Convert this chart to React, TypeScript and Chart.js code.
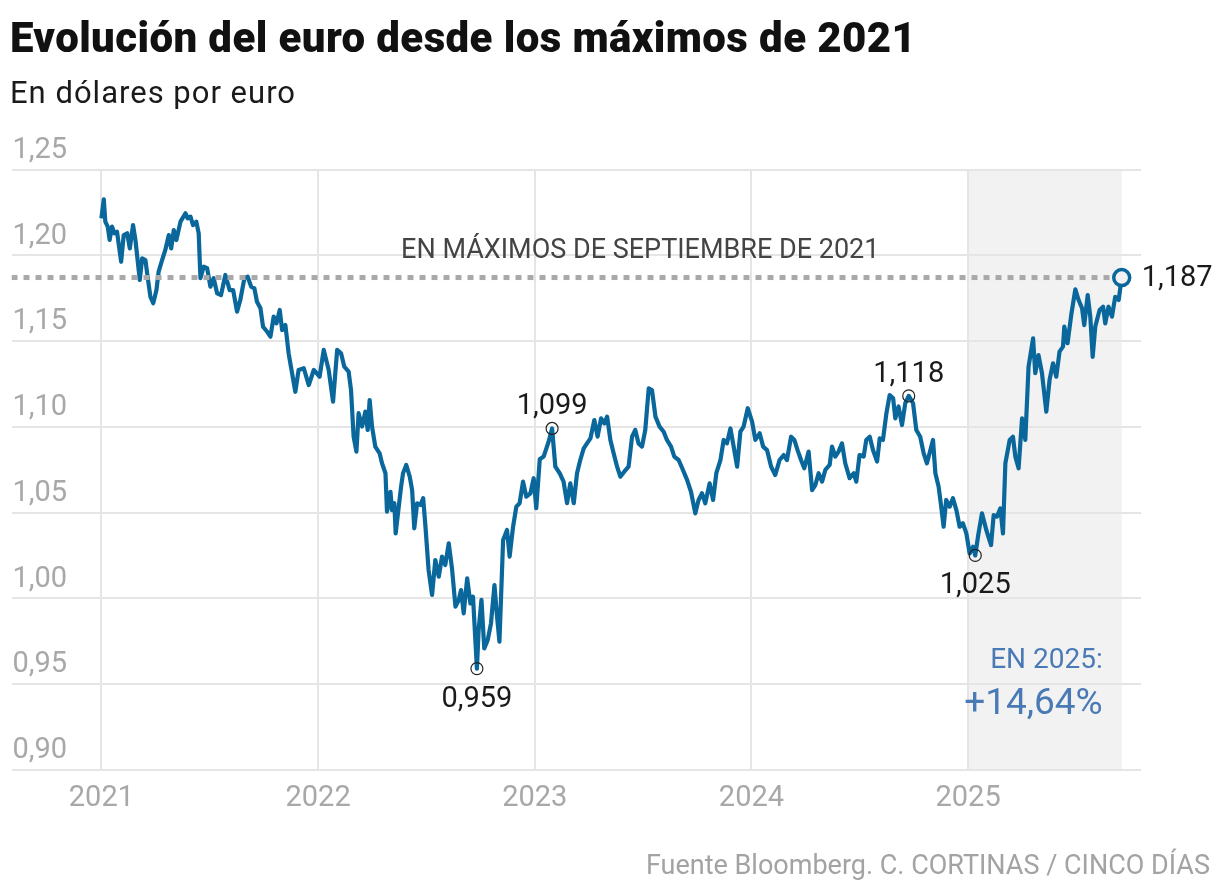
import React, { useEffect, useRef } from 'react';
import { Chart, registerables } from 'chart.js';

Chart.register(...registerables);

const FONT = 'Roboto, "Noto Sans", sans-serif';
const BLUE = '#0a679c';

// axis ticks
const YEARS = [2021, 2022, 2023, 2024, 2025];
const Y_TICKS = [0.9, 0.95, 1.0, 1.05, 1.1, 1.15, 1.2, 1.25];

// EUR/USD, date as decimal year
const DATES = [
  2021.000, 2021.011, 2021.018, 2021.029, 2021.038, 2021.049, 2021.060, 2021.072, 2021.091, 2021.103,
  2021.119, 2021.131, 2021.146, 2021.157, 2021.177, 2021.188, 2021.203, 2021.211, 2021.226, 2021.239,
  2021.254, 2021.264, 2021.280, 2021.295, 2021.311, 2021.322, 2021.334, 2021.346, 2021.365, 2021.388,
  2021.398, 2021.411, 2021.423, 2021.438, 2021.449, 2021.457, 2021.472, 2021.488, 2021.503, 2021.518,
  2021.534, 2021.552, 2021.572, 2021.592, 2021.608, 2021.626, 2021.641, 2021.660, 2021.675, 2021.691,
  2021.706, 2021.718, 2021.734, 2021.746, 2021.765, 2021.780, 2021.795, 2021.808, 2021.823, 2021.834,
  2021.849, 2021.864, 2021.872, 2021.895, 2021.910, 2021.934, 2021.957, 2021.980,
  2022.007, 2022.026, 2022.049, 2022.069, 2022.088, 2022.106, 2022.121, 2022.141, 2022.152, 2022.164,
  2022.177, 2022.187, 2022.203, 2022.218, 2022.229, 2022.238, 2022.249, 2022.264, 2022.284, 2022.295,
  2022.311, 2022.318, 2022.334, 2022.341, 2022.352, 2022.358, 2022.367, 2022.383, 2022.392, 2022.407,
  2022.423, 2022.434, 2022.444, 2022.457, 2022.472, 2022.485, 2022.495, 2022.510, 2022.526, 2022.541,
  2022.557, 2022.572, 2022.587, 2022.603, 2022.618, 2022.634, 2022.649, 2022.660, 2022.672, 2022.688,
  2022.703, 2022.715, 2022.733, 2022.741, 2022.754, 2022.767, 2022.783, 2022.798, 2022.814, 2022.826,
  2022.837, 2022.854, 2022.872, 2022.884, 2022.900, 2022.915, 2022.930, 2022.946, 2022.961, 2022.980,
  2022.995,
  2023.007, 2023.023, 2023.041, 2023.064, 2023.080, 2023.095, 2023.115, 2023.133, 2023.149, 2023.164,
  2023.180, 2023.195, 2023.210, 2023.226, 2023.241, 2023.257, 2023.275, 2023.290, 2023.306, 2023.321,
  2023.334, 2023.349, 2023.364, 2023.380, 2023.395, 2023.413, 2023.433, 2023.449, 2023.464, 2023.479,
  2023.495, 2023.510, 2023.526, 2023.541, 2023.557, 2023.576, 2023.595, 2023.610, 2023.629, 2023.644,
  2023.664, 2023.684, 2023.703, 2023.721, 2023.741, 2023.756, 2023.772, 2023.787, 2023.807, 2023.823,
  2023.838, 2023.857, 2023.872, 2023.887, 2023.903, 2023.918, 2023.934, 2023.949, 2023.964, 2023.983,
  2024.003, 2024.018, 2024.038, 2024.054, 2024.072, 2024.091, 2024.110, 2024.130, 2024.149, 2024.164,
  2024.183, 2024.198, 2024.213, 2024.229, 2024.244, 2024.264, 2024.280, 2024.295, 2024.310, 2024.326,
  2024.341, 2024.361, 2024.372, 2024.387, 2024.402, 2024.418, 2024.433, 2024.453, 2024.472, 2024.484,
  2024.499, 2024.518, 2024.530, 2024.546, 2024.561, 2024.580, 2024.592, 2024.607, 2024.623, 2024.638,
  2024.654, 2024.664, 2024.679, 2024.695, 2024.710, 2024.726, 2024.746, 2024.761, 2024.779, 2024.795,
  2024.810, 2024.826, 2024.838, 2024.849, 2024.864, 2024.876, 2024.887, 2024.899, 2024.915, 2024.930,
  2024.946, 2024.961, 2024.976, 2024.992,
  2025.007, 2025.023, 2025.033, 2025.048, 2025.064, 2025.084, 2025.106, 2025.118, 2025.133, 2025.149,
  2025.161, 2025.172, 2025.192, 2025.207, 2025.218, 2025.233, 2025.249, 2025.264, 2025.279, 2025.300,
  2025.310, 2025.325, 2025.341, 2025.361, 2025.376, 2025.392, 2025.407, 2025.422, 2025.438, 2025.444,
  2025.459, 2025.476, 2025.495, 2025.510, 2025.526, 2025.536, 2025.552, 2025.564, 2025.575, 2025.587,
  2025.607, 2025.623, 2025.633, 2025.648, 2025.664, 2025.679, 2025.695, 2025.709,
];

const EURUSD = [
  1.2215, 1.2326, 1.2196, 1.2167, 1.2089, 1.2167, 1.2128, 1.2137, 1.1962, 1.2118,
  1.2128, 1.2040, 1.2176, 1.2089, 1.1856, 1.1982, 1.1972, 1.1895, 1.1758, 1.1720,
  1.1797, 1.1904, 1.1972, 1.2031, 1.2118, 1.2040, 1.2147, 1.2089, 1.2196, 1.2245,
  1.2215, 1.2225, 1.2176, 1.2196, 1.2128, 1.1866, 1.1933, 1.1924, 1.1817, 1.1866,
  1.1778, 1.1768, 1.1885, 1.1797, 1.1797, 1.1671, 1.1739, 1.1866, 1.1875, 1.1817,
  1.1807, 1.1729, 1.1691, 1.1583, 1.1554, 1.1525, 1.1642, 1.1603, 1.1681, 1.1564,
  1.1593, 1.1428, 1.1370, 1.1204, 1.1331, 1.1341, 1.1243, 1.1331,
  1.1292, 1.1448, 1.1331, 1.1146, 1.1448, 1.1428, 1.1350, 1.1321, 1.1214, 1.0942,
  1.0855, 1.1079, 1.1001, 1.1088, 1.0981, 1.1156, 1.1001, 1.0884, 1.0845, 1.0787,
  1.0729, 1.0505, 1.0621, 1.0514, 1.0554, 1.0378, 1.0476, 1.0650, 1.0729, 1.0777,
  1.0709, 1.0631, 1.0408, 1.0554, 1.0544, 1.0583, 1.0427, 1.0165, 1.0019, 1.0223,
  1.0126, 1.0243, 1.0194, 1.0320, 1.0174, 0.9951, 0.9990, 1.0048, 0.9912, 1.0116,
  0.9970, 1.0009, 0.9590, 0.9815, 0.9990, 0.9708, 0.9757, 0.9854, 1.0077, 0.9893,
  0.9747, 1.0340, 1.0398, 1.0243, 1.0418, 1.0534, 1.0554, 1.0680, 1.0592, 1.0612,
  1.0700,
  1.0525, 1.0810, 1.0826, 1.0913, 1.0990, 1.0767, 1.0729, 1.0680, 1.0554, 1.0670,
  1.0554, 1.0729, 1.0806, 1.0874, 1.0903, 1.0932, 1.1039, 1.0942, 1.1049, 1.1019,
  1.1059, 1.0923, 1.0845, 1.0767, 1.0709, 1.0738, 1.0767, 1.0942, 1.0981, 1.0903,
  1.0884, 1.0981, 1.1224, 1.1214, 1.1059, 1.1001, 1.0971, 1.0923, 1.0884, 1.0826,
  1.0806, 1.0748, 1.0690, 1.0621, 1.0495, 1.0573, 1.0612, 1.0554, 1.0670, 1.0573,
  1.0729, 1.0806, 1.0923, 1.0903, 1.0990, 1.0884, 1.0767, 1.0971, 1.1001, 1.1108,
  1.1030, 1.0923, 1.0962, 1.0884, 1.0864, 1.0767, 1.0719, 1.0806, 1.0835, 1.0806,
  1.0942, 1.0923, 1.0864, 1.0806, 1.0758, 1.0855, 1.0631, 1.0660, 1.0729, 1.0680,
  1.0748, 1.0777, 1.0884, 1.0826, 1.0855, 1.0903, 1.0787, 1.0700, 1.0729, 1.0680,
  1.0835, 1.0826, 1.0923, 1.0942, 1.0864, 1.0797, 1.0932, 1.0923, 1.1079, 1.1185,
  1.1166, 1.1049, 1.1118, 1.1010, 1.1137, 1.1180, 1.1137, 1.0981, 1.0942, 1.0845,
  1.0787, 1.0864, 1.0923, 1.0729, 1.0650, 1.0534, 1.0417, 1.0573, 1.0534, 1.0583,
  1.0514, 1.0417, 1.0437, 1.0378,
  1.0261, 1.0300, 1.0250, 1.0378, 1.0495, 1.0398, 1.0310, 1.0485, 1.0476, 1.0524,
  1.0378, 1.0787, 1.0923, 1.0942, 1.0826, 1.0758, 1.1049, 1.0923, 1.1350, 1.1515,
  1.1312, 1.1418, 1.1312, 1.1088, 1.1273, 1.1370, 1.1292, 1.1438, 1.1467, 1.1584,
  1.1487, 1.1652, 1.1801, 1.1739, 1.1691, 1.1593, 1.1768, 1.1642, 1.1408, 1.1584,
  1.1681, 1.1700, 1.1603, 1.1700, 1.1642, 1.1758, 1.1739, 1.1870,
];

// highlighted extremes
const PEAK_DATES = [2023.080, 2022.733, 2024.726, 2025.033];
const PEAK_VALUES = [1.099, 0.959, 1.118, 1.025];
const PEAK_LABELS = ['1,099', '0,959', '1,118', '1,025'];
const PEAK_ABOVE = [true, false, true, false];

const RECORD_LEVEL = 1.187;
const RECORD_LABEL = '1,187';
const SHADE_FROM = 2025;
const X_MIN = 2020.585;
const X_MAX = 2025.798;

const fmtY = (v: number) => v.toFixed(2).replace('.', ',');

const decorations = {
  id: 'decorations',
  beforeDraw(chart: any) {
    const { ctx, chartArea, scales } = chart;
    const x0 = scales.x.getPixelForValue(SHADE_FROM);
    const x1 = scales.x.getPixelForValue(DATES[DATES.length - 1]);
    ctx.save();
    ctx.fillStyle = '#f2f2f2';
    ctx.fillRect(x0, chartArea.top, x1 - x0, chartArea.bottom - chartArea.top);
    ctx.restore();
  },
  afterDatasetsDraw(chart: any) {
    const { ctx, scales } = chart;
    const { x, y } = scales;
    ctx.save();
    ctx.textBaseline = 'alphabetic';

    ctx.font = `29px ${FONT}`;
    ctx.fillStyle = '#1a1a1a';
    ctx.textAlign = 'center';
    PEAK_LABELS.forEach((label, i) => {
      const px = x.getPixelForValue(PEAK_DATES[i]);
      const py = y.getPixelForValue(PEAK_VALUES[i]);
      ctx.fillText(label, px, PEAK_ABOVE[i] ? py - 14 : py + 38);
    });

    const lastX = x.getPixelForValue(DATES[DATES.length - 1]);
    const recY = y.getPixelForValue(RECORD_LEVEL);
    ctx.textAlign = 'left';
    ctx.fillText(RECORD_LABEL, lastX + 20, recY + 8);

    ctx.font = `27px ${FONT}`;
    ctx.fillStyle = '#444444';
    ctx.textAlign = 'center';
    ctx.fillText('EN MÁXIMOS DE SEPTIEMBRE DE 2021', x.getPixelForValue(2023.487), recY - 20);

    ctx.fillStyle = '#4a7ab6';
    ctx.textAlign = 'right';
    ctx.font = `28px ${FONT}`;
    ctx.fillText('EN 2025:', lastX - 19, y.getPixelForValue(0.9594));
    ctx.font = `37px ${FONT}`;
    ctx.fillText('+14,64%', lastX - 19, y.getPixelForValue(0.9326));
    ctx.restore();
  },
};

function EuroChart() {
  const canvasRef = useRef<HTMLCanvasElement>(null);

  useEffect(() => {
    const canvas = canvasRef.current;
    if (!canvas) return;
    Chart.defaults.font.family = FONT;

    const series = DATES.map((d, i) => ({ x: d, y: EURUSD[i] }));
    const lastDate = DATES[DATES.length - 1];

    const chart = new Chart(canvas, {
      type: 'line',
      data: {
        datasets: [
          {
            label: 'extremos',
            data: PEAK_DATES.map((d, i) => ({ x: d, y: PEAK_VALUES[i] })),
            showLine: false,
            pointRadius: 6,
            pointBorderWidth: 1.2,
            pointBorderColor: '#222222',
            pointBackgroundColor: 'rgba(0,0,0,0)',
            order: 0,
          },
          {
            label: 'último',
            data: [{ x: lastDate, y: RECORD_LEVEL }],
            showLine: false,
            pointRadius: 8,
            pointBorderWidth: 3.5,
            pointBorderColor: BLUE,
            pointBackgroundColor: '#f2f2f2',
            order: 1,
          },
          {
            label: 'máximo 2021',
            data: [{ x: X_MIN, y: RECORD_LEVEL }, { x: lastDate, y: RECORD_LEVEL }],
            borderColor: '#a9a9a9',
            borderWidth: 5,
            borderDash: [6, 6],
            pointRadius: 0,
            order: 2,
          },
          {
            label: 'EUR/USD',
            data: series,
            borderColor: BLUE,
            borderWidth: 4.2,
            borderJoinStyle: 'round',
            pointRadius: 0,
            tension: 0,
            order: 3,
          },
        ],
      },
      options: {
        animation: false,
        responsive: true,
        maintainAspectRatio: false,
        events: [],
        layout: { padding: { left: 11, top: 169.5, right: 79, bottom: 0 } },
        plugins: { legend: { display: false }, tooltip: { enabled: false } },
        scales: {
          x: {
            type: 'linear',
            min: X_MIN,
            max: X_MAX,
            afterBuildTicks: (s: any) => { s.ticks = YEARS.map(v => ({ value: v })); },
            afterFit: (s: any) => { s.height = 126.25; },
            border: { display: false },
            grid: { color: '#e5e5e5', lineWidth: 2, drawTicks: false },
            ticks: {
              padding: 12,
              color: '#a8a8a8',
              font: { size: 29, family: FONT },
              maxRotation: 0,
              callback: (v: any) => String(v),
            },
          },
          y: {
            type: 'linear',
            min: 0.9,
            max: 1.25,
            afterBuildTicks: (s: any) => { s.ticks = Y_TICKS.map(v => ({ value: v })); },
            afterFit: (s: any) => { s.width = 0; },
            border: { display: false },
            grid: { color: '#e5e5e5', lineWidth: 2, drawTicks: false },
            ticks: {
              mirror: true,
              padding: 1,
              labelOffset: -19,
              color: '#a8a8a8',
              font: { size: 29, family: FONT },
              callback: (v: any) => fmtY(Number(v)),
            },
          },
        },
      },
      plugins: [decorations],
    });
    return () => chart.destroy();
  }, []);

  return (
    <div style={{ position: 'absolute', left: 0, top: 0, width: 1220, height: 896 }}>
      <canvas ref={canvasRef} />
    </div>
  );
}

export default function App() {
  const text: React.CSSProperties = { position: 'absolute', margin: 0, lineHeight: 1, whiteSpace: 'nowrap', fontFamily: FONT };
  return (
    <div style={{ position: 'absolute', left: 0, top: 0, width: 1220, height: 896, background: '#ffffff', overflow: 'hidden' }}>
      <EuroChart />
      <div style={{ ...text, left: 10, top: 17.3, fontSize: 42, fontWeight: 900, color: '#111111', letterSpacing: 0.4 }}>
        Evolución del euro desde los máximos de 2021
      </div>
      <div style={{ ...text, left: 10, top: 77.2, fontSize: 31, color: '#1a1a1a', letterSpacing: 1.0 }}>
        En dólares por euro
      </div>
      <div style={{ ...text, right: 10, top: 852.3, fontSize: 27, color: '#a3a3a3' }}>
        Fuente Bloomberg. C. CORTINAS / CINCO DÍAS
      </div>
    </div>
  );
}
